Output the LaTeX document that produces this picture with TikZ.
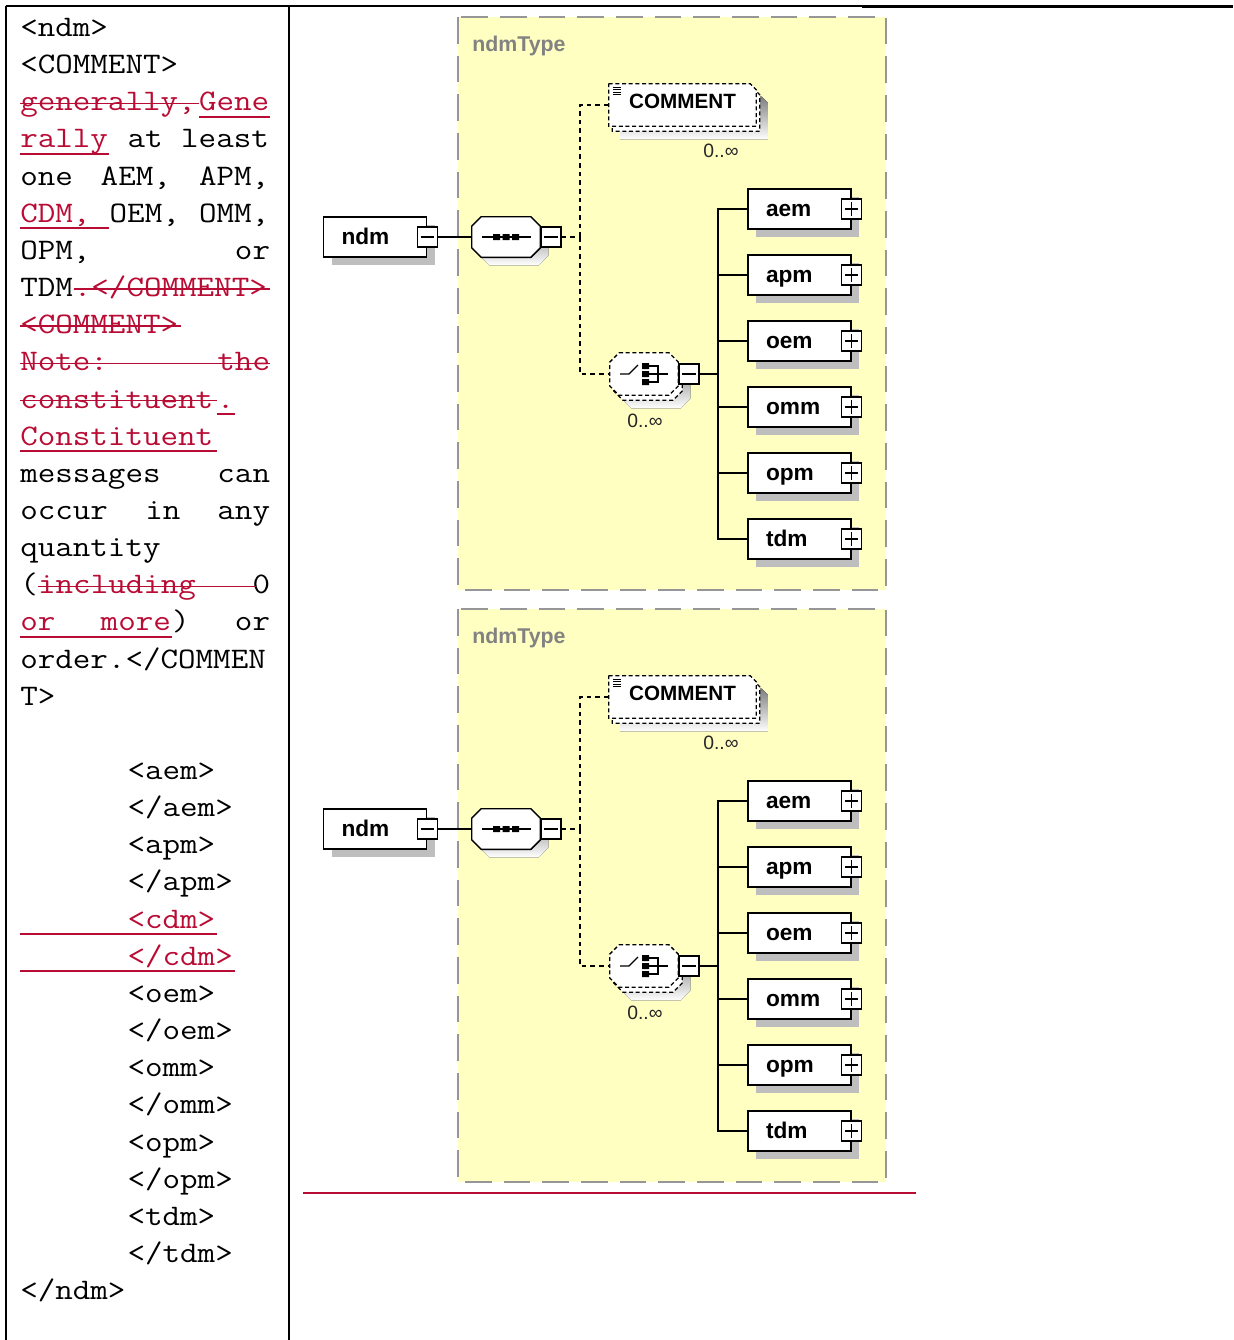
\documentclass[tikz,border=0pt]{standalone}
\usepackage{fontspec}
\setmainfont{Liberation Sans}
\newfontfamily\codefont{Latin Modern Mono}[FakeStretch=1.143]
\usetikzlibrary{shadows}
\definecolor{chg}{RGB}{185,12,52}
\definecolor{panelfill}{RGB}{255,255,194}
\definecolor{panelline}{RGB}{150,150,150}
\definecolor{shade}{RGB}{190,190,190}
\definecolor{typegray}{RGB}{130,130,130}
\pgfdeclarelayer{bg}
\pgfsetlayers{bg,main}

\newcommand\cbase[1]{(36.5+37.15*(#1-1))}
\newcommand\cmid[1]{(27+37.15*(#1-1))}
\newcommand\ccol[1]{(20+17.88*(#1))}
\newcommand\codeln[5][]{\node[codetxt,#1] (#2) at ({\ccol{#3}},{\cbase{#4}}) {#5};}
\newcommand\coderight[4][]{\node[codetxtR,#1] (#2) at ({\ccol{14}},{\cbase{#3}}) {#4};}
\newcommand\chgstrike[3]{\draw[chgline] ({\ccol{#2}},{\cmid{#1}+2}) -- ({\ccol{#3}},{\cmid{#1}+2});}
\newcommand\chgunder[3]{\draw[chgline, line width=1.4pt] ({\ccol{#2}},{\cmid{#1}+15.5}) -- ({\ccol{#3}},{\cmid{#1}+15.5});}

\newcommand\octpath[2]{([xshift=#2]#1.north west) -- ([xshift=-#2]#1.north east) -- ([yshift=-#2]#1.north east) -- ([yshift=#2]#1.south east) -- ([xshift=-#2]#1.south east) -- ([xshift=#2]#1.south west) -- ([yshift=#2]#1.south west) -- ([yshift=-#2]#1.north west) -- cycle}
\newcommand\notchpath[2]{(#1.north west) -- ([xshift=-#2]#1.north east) -- ([yshift=-#2]#1.north east) -- (#1.south east) -- (#1.south west) -- cycle}

\tikzset{
  codetxt/.style={font=\codefont\fontsize{22.35pt}{27pt}\selectfont, inner sep=0pt, anchor=base west},
  codetxtR/.style={codetxt, anchor=base east},
  chgline/.style={draw=chg, line width=1.1pt},
  elem/.style={draw, fill=white, line width=1.1pt,
    font=\fontsize{17pt}{20pt}\selectfont\bfseries, text width=50.25pt, align=left,
    text height=11pt, text depth=0pt,
    inner xsep=13.5pt, inner ysep=0pt, minimum height=30pt,
    general shadow={fill=shade, shadow xshift=6pt, shadow yshift=-6pt}},
  btn/.style={draw, fill=white, line width=1pt, inner sep=0pt, minimum size=15pt},
  minusbtn/.style={btn, path picture={\draw[line width=1pt]
    ([xshift=2.5pt]path picture bounding box.west) -- ([xshift=-2.5pt]path picture bounding box.east);}},
  plusbtn/.style={btn, path picture={\draw[line width=1pt]
    ([xshift=2.5pt]path picture bounding box.west) -- ([xshift=-2.5pt]path picture bounding box.east)
    ([yshift=2.5pt]path picture bounding box.south) -- ([yshift=-2.5pt]path picture bounding box.north);}},
  holder/.style={inner sep=0pt, minimum width=#1},
  conn/.style={line width=1.1pt},
  dconn/.style={line width=1.1pt, dash pattern=on 3.5pt off 3pt},
  dshape/.style={fill=white, line width=1pt, dash pattern=on 3pt off 2pt},
  occ/.style={font=\fontsize{14.5pt}{16pt}\selectfont, text=black!85, inner sep=0pt},
  typelbl/.style={font=\fontsize{16pt}{19pt}\selectfont\bfseries, text=typegray, anchor=west, inner sep=0pt},
}

\newcommand\ndmpanel[2]{%
\begin{scope}[shift={(0,#2)}]
\begin{pgfonlayer}{bg}
  \fill[panelfill] (458,17) rectangle (886,590);
  \draw[panelline, line width=1.5pt, dash pattern=on 20pt off 9pt] (458,17) rectangle (886,590);
\end{pgfonlayer}
  \node[typelbl] (#1-type) at (472,46) {ndmType};
  \node[holder=51pt, minimum height=30pt] (#1-seq) at (506,237) {};
  \node[holder=51pt, minimum height=31.5pt] (#1-chobk) at (648,379) {};
  \node[holder=51pt, minimum height=31.5pt] (#1-cho) at (644,374) {};
  \node[holder=110.25pt, minimum height=31.5pt] (#1-cmtbk) at (686,110) {};
  \node[holder=110.25pt, minimum height=31.5pt, text height=5.9pt, text depth=0pt,
        font=\fontsize{15.5pt}{18pt}\selectfont\bfseries] (#1-cmt) at (682.5,105) {COMMENT};
\begin{pgfonlayer}{bg}
  \fill[shade, transform canvas={shift={(6pt,-6pt)}}] \octpath{#1-seq}{7pt};
  \filldraw[fill=white, line width=1.1pt] \octpath{#1-seq}{7pt};
  \fill[shade, transform canvas={shift={(6pt,-6pt)}}] \octpath{#1-chobk}{7pt};
  \filldraw[dshape] \octpath{#1-chobk}{7pt};
  \filldraw[dshape] \octpath{#1-cho}{7pt};
  \fill[shade, transform canvas={shift={(6pt,-6pt)}}] \notchpath{#1-cmtbk}{4.5pt};
  \filldraw[dshape] \notchpath{#1-cmtbk}{4.5pt};
  \filldraw[dshape] \notchpath{#1-cmt}{4.5pt};
\end{pgfonlayer}
  % sequence glyph
  \draw[line width=1pt] (482,237) -- (531,237);
  \fill (493,234) rectangle (500,240) (502.5,234) rectangle (509.5,240) (512,234) rectangle (519,240);
  % choice glyph
  \draw[line width=1pt] (620,374) -- (629,374) -- (638,365);
  \fill (642,363) rectangle (649,369) (642,371) rectangle (649,377) (642,379) rectangle (649,385);
  \draw[line width=1pt] (649,366) -- (658,366) -- (658,382) -- (649,382) (649,374) -- (668,374);
  % comment icon
  \draw[line width=0.6pt] (613,87) -- (621,87) (613,89.5) -- (621,89.5) (613,92) -- (621,92) (613,94.5) -- (621,94.5);
  % occurrence labels
  \node[occ] (#1-cmtocc) at (721,151) {0..∞};
  \node[occ] (#1-chocc) at (645,421) {0..∞};
  % ndm element
  \node[elem] (#1-ndm) at (375,237) {ndm};
  \node[minusbtn] (#1-ndmb) at (#1-ndm.east) {};
  \node[minusbtn, anchor=west] (#1-seqb) at (#1-seq.east) {};
  \node[minusbtn, anchor=west] (#1-chob) at (#1-cho.east) {};
  \draw[conn] (#1-ndmb.east) -- (#1-seq.west);
  \coordinate (#1-split) at (580,237);
  \draw[dconn] (#1-seqb.east) -- (#1-split);
  \draw[dconn] (#1-split) |- (#1-cmt.west);
  \draw[dconn] (#1-split) |- (#1-cho.west);
  \coordinate (#1-bus) at (718,374);
  \draw[conn] (#1-chob.east) -- (#1-bus);
  \foreach \n [count=\i from 0] in {aem,apm,oem,omm,opm,tdm} {
    \node[elem] (#1-\n) at (799.5,{209+66*\i}) {\n};
    \node[plusbtn] (#1-\n-b) at (#1-\n.east) {};
    \draw[conn] (#1-bus) |- (#1-\n.west);
  }
\end{scope}}

\begin{document}
\begin{tikzpicture}[x=0.75pt, y=-0.75pt]
\useasboundingbox (0,0) rectangle (1233,1340);
% table lines
\draw[line width=1.5pt] (5.5,6) -- (289,6);
\draw[line width=1pt] (289,6) -- (862,6);
\draw[line width=1.6pt] (862,6.5) -- (1233,6.5);
\draw[line width=1.5pt] (6,5.5) -- (6,1340);
\draw[line width=1.5pt] (289,5.5) -- (289,1340);
\draw[chg, line width=1.5pt] (303,1193) -- (916,1193);

% left column text
\codeln{t1}{0}{1}{<ndm>}
\codeln{t2}{0}{2}{<COMMENT>}
\codeln[text=chg]{t3a}{0}{3}{generally,}
\codeln[text=chg]{t3b}{10}{3}{Gene}
\chgstrike{3}{0}{10}
\chgunder{3}{10}{14}
\codeln[text=chg]{t4a}{0}{4}{rally}
\codeln{t4b}{6}{4}{at}
\codeln{t4c}{9}{4}{least}
\chgunder{4}{0}{5}
\codeln{t5a}{0}{5}{one}
\codeln{t5b}{4.5}{5}{AEM,}
\codeln{t5c}{10}{5}{APM,}
\codeln[text=chg]{t6a}{0}{6}{CDM,}
\codeln{t6b}{5}{6}{OEM,}
\codeln{t6c}{10}{6}{OMM,}
\chgunder{6}{0}{5}
\codeln{t7a}{0}{7}{OPM,}
\coderight{t7b}{7}{or}
\codeln{t8a}{0}{8}{TDM}
\codeln[text=chg]{t8b}{3}{8}{.</COMMENT>}
\chgstrike{8}{3}{14}
\codeln[text=chg]{t9}{0}{9}{<COMMENT>}
\chgstrike{9}{0}{9}
\codeln[text=chg]{t10a}{0}{10}{Note:}
\coderight[text=chg]{t10b}{10}{the}
\chgstrike{10}{0}{14}
\codeln[text=chg]{t11a}{0}{11}{constituent}
\codeln[text=chg]{t11b}{11}{11}{.}
\chgstrike{11}{0}{11}
\chgunder{11}{11}{12}
\codeln[text=chg]{t12}{0}{12}{Constituent}
\chgunder{12}{0}{11}
\codeln{t13a}{0}{13}{messages}
\coderight{t13b}{13}{can}
\codeln{t14a}{0}{14}{occur}
\codeln{t14b}{7}{14}{in}
\coderight{t14c}{14}{any}
\codeln{t15}{0}{15}{quantity}
\codeln{t16a}{0}{16}{(}
\codeln[text=chg]{t16b}{1}{16}{including}
\coderight{t16c}{16}{0}
\chgstrike{16}{1}{13.2}
\codeln[text=chg]{t17a}{0}{17}{or}
\codeln[text=chg]{t17b}{4.5}{17}{more}
\codeln{t17c}{8.5}{17}{)}
\coderight{t17d}{17}{or}
\chgunder{17}{0}{8.5}
\codeln{t18}{0}{18}{order.</COMMEN}
\codeln{t19}{0}{19}{T>}
\codeln{t21}{6}{21}{<aem>}
\codeln{t22}{6}{22}{</aem>}
\codeln{t23}{6}{23}{<apm>}
\codeln{t24}{6}{24}{</apm>}
\codeln[text=chg]{t25}{6}{25}{<cdm>}
\chgunder{25}{0}{11}
\codeln[text=chg]{t26}{6}{26}{</cdm>}
\chgunder{26}{0}{12}
\codeln{t27}{6}{27}{<oem>}
\codeln{t28}{6}{28}{</oem>}
\codeln{t29}{6}{29}{<omm>}
\codeln{t30}{6}{30}{</omm>}
\codeln{t31}{6}{31}{<opm>}
\codeln{t32}{6}{32}{</opm>}
\codeln{t33}{6}{33}{<tdm>}
\codeln{t34}{6}{34}{</tdm>}
\codeln{t35}{0}{35}{</ndm>}

% diagrams
\ndmpanel{a}{0}
\ndmpanel{b}{592}
\end{tikzpicture}
\end{document}
